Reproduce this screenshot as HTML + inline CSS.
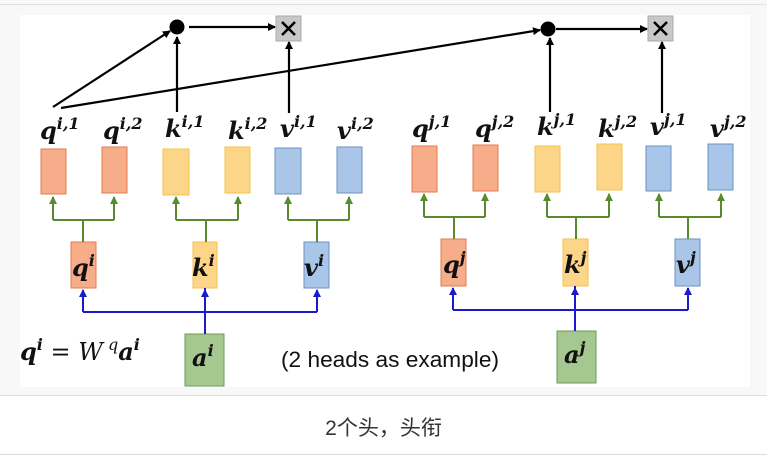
<!DOCTYPE html>
<html><head><meta charset="utf-8"><style>
html,body{margin:0;padding:0;background:#f8f8f8;}
body{width:767px;height:456px;position:relative;overflow:hidden;font-family:"Liberation Sans","Noto Sans CJK SC",sans-serif;}
.m{font-family:"DejaVu Serif","Liberation Serif",serif;font-weight:bold;font-style:italic;fill:#111;}
</style></head><body>
<div style="position:absolute;left:0;top:4px;width:767px;height:1px;background:#e2e2e2"></div>
<div style="position:absolute;left:0;top:395px;width:767px;height:61px;background:#fff"></div>
<div style="position:absolute;left:0;top:395px;width:767px;height:1px;background:#dcdcdc"></div>
<div style="position:absolute;left:0;top:454px;width:767px;height:1px;background:#dcdcdc"></div>
<div style="position:absolute;left:0;top:412px;width:767px;text-align:center;font-size:21px;color:#333">2个头，头衔</div>
<svg width="767" height="395" style="position:absolute;left:0;top:0">
<defs>
<marker id="ak" markerWidth="8" markerHeight="8" refX="7" refY="4" orient="auto" markerUnits="userSpaceOnUse"><path d="M0,0L8,4L0,8z" fill="#000"/></marker>
<marker id="ag" markerWidth="8" markerHeight="8" refX="7" refY="4" orient="auto" markerUnits="userSpaceOnUse"><path d="M0,0L8,4L0,8z" fill="#5a8a2e"/></marker>
<marker id="ab" markerWidth="8" markerHeight="8" refX="7" refY="4" orient="auto" markerUnits="userSpaceOnUse"><path d="M0,0L8,4L0,8z" fill="#1a1acc"/></marker>
</defs>
<rect x="20" y="15" width="730" height="372" fill="#fff"/>
<g stroke="#000" stroke-width="2.2" fill="none">
<line x1="53" y1="107" x2="170" y2="31" marker-end="url(#ak)"/>
<line x1="61" y1="108" x2="540" y2="30" marker-end="url(#ak)"/>
<line x1="177" y1="112" x2="177" y2="37" marker-end="url(#ak)"/>
<line x1="289" y1="113" x2="289" y2="42" marker-end="url(#ak)"/>
<line x1="189" y1="27" x2="275" y2="27" marker-end="url(#ak)"/>
<line x1="550" y1="112" x2="550" y2="38" marker-end="url(#ak)"/>
<line x1="662" y1="113" x2="662" y2="42" marker-end="url(#ak)"/>
<line x1="556" y1="29" x2="647" y2="29" marker-end="url(#ak)"/>
</g>
<circle cx="177" cy="27" r="7.5" fill="#000"/>
<circle cx="548" cy="29" r="7.5" fill="#000"/>
<rect x="276" y="16" width="25" height="25" fill="#c8c8c8" stroke="#aaa"/>
<rect x="648" y="16" width="25" height="25" fill="#c8c8c8" stroke="#aaa"/>
<path d="M282,22L295,35M295,22L282,35M654,22L667,35M667,22L654,35" stroke="#000" stroke-width="2.5"/>
<g class="m" font-size="24">
<text x="40" y="139">q<tspan font-size="16" dy="-10">i,1</tspan></text>
<text x="103" y="139">q<tspan font-size="16" dy="-10">i,2</tspan></text>
<text x="165" y="137">k<tspan font-size="16" dy="-10">i,1</tspan></text>
<text x="228" y="139">k<tspan font-size="16" dy="-10">i,2</tspan></text>
<text x="280" y="137">v<tspan font-size="16" dy="-10">i,1</tspan></text>
<text x="337" y="139">v<tspan font-size="16" dy="-10">i,2</tspan></text>
<text x="412" y="137">q<tspan font-size="16" dy="-10">j,1</tspan></text>
<text x="475" y="137">q<tspan font-size="16" dy="-10">j,2</tspan></text>
<text x="537" y="135">k<tspan font-size="16" dy="-10">j,1</tspan></text>
<text x="598" y="137">k<tspan font-size="16" dy="-10">j,2</tspan></text>
<text x="650" y="135">v<tspan font-size="16" dy="-10">j,1</tspan></text>
<text x="710" y="137">v<tspan font-size="16" dy="-10">j,2</tspan></text>
</g>
<g stroke-width="1">
<rect x="41" y="149" width="25" height="45" fill="#f7ad8a" stroke="#e07b4f"/>
<rect x="102" y="147" width="25" height="46" fill="#f7ad8a" stroke="#e07b4f"/>
<rect x="163" y="149" width="26" height="46" fill="#fdd588" stroke="#f5c24a"/>
<rect x="225" y="147" width="25" height="46" fill="#fdd588" stroke="#f5c24a"/>
<rect x="275" y="148" width="26" height="46" fill="#a9c5e8" stroke="#6b91c4"/>
<rect x="337" y="147" width="25" height="46" fill="#a9c5e8" stroke="#6b91c4"/>
<rect x="412" y="146" width="25" height="46" fill="#f7ad8a" stroke="#e07b4f"/>
<rect x="473" y="145" width="25" height="46" fill="#f7ad8a" stroke="#e07b4f"/>
<rect x="535" y="146" width="25" height="46" fill="#fdd588" stroke="#f5c24a"/>
<rect x="597" y="144" width="25" height="46" fill="#fdd588" stroke="#f5c24a"/>
<rect x="646" y="146" width="25" height="45" fill="#a9c5e8" stroke="#6b91c4"/>
<rect x="708" y="144" width="25" height="46" fill="#a9c5e8" stroke="#6b91c4"/>
<rect x="71" y="242" width="25" height="46" fill="#f7ad8a" stroke="#e07b4f"/>
<rect x="193" y="242" width="24" height="46" fill="#fdd588" stroke="#f5c24a"/>
<rect x="304" y="242" width="25" height="46" fill="#a9c5e8" stroke="#6b91c4"/>
<rect x="441" y="239" width="25" height="47" fill="#f7ad8a" stroke="#e07b4f"/>
<rect x="563" y="239" width="25" height="47" fill="#fdd588" stroke="#f5c24a"/>
<rect x="675" y="239" width="25" height="47" fill="#a9c5e8" stroke="#6b91c4"/>
<rect x="185" y="334" width="39" height="52" fill="#a5c890" stroke="#6f9a55"/>
<rect x="557" y="331" width="39" height="52" fill="#a5c890" stroke="#6f9a55"/>
</g>
<g stroke="#5a8a2e" stroke-width="2" fill="none">
<path d="M53,220H114M83,220V242M176,220H238M206,220V242M288,220H349M317,220V242"/>
<path d="M424,217H485M454,217V239M547,217H609M576,217V239M659,217H721M688,217V239"/>
<line x1="53" y1="220" x2="53" y2="197" marker-end="url(#ag)"/>
<line x1="114" y1="220" x2="114" y2="197" marker-end="url(#ag)"/>
<line x1="176" y1="220" x2="176" y2="197" marker-end="url(#ag)"/>
<line x1="238" y1="220" x2="238" y2="197" marker-end="url(#ag)"/>
<line x1="288" y1="220" x2="288" y2="197" marker-end="url(#ag)"/>
<line x1="349" y1="220" x2="349" y2="197" marker-end="url(#ag)"/>
<line x1="424" y1="217" x2="424" y2="194" marker-end="url(#ag)"/>
<line x1="485" y1="217" x2="485" y2="194" marker-end="url(#ag)"/>
<line x1="547" y1="217" x2="547" y2="194" marker-end="url(#ag)"/>
<line x1="609" y1="217" x2="609" y2="194" marker-end="url(#ag)"/>
<line x1="659" y1="217" x2="659" y2="194" marker-end="url(#ag)"/>
<line x1="721" y1="217" x2="721" y2="194" marker-end="url(#ag)"/>
</g>
<g stroke="#1a1acc" stroke-width="2" fill="none">
<path d="M83,312H317M205,334V288"/>
<path d="M453,310H688M575,331V286"/>
<line x1="83" y1="312" x2="83" y2="290" marker-end="url(#ab)"/>
<line x1="205" y1="312" x2="205" y2="290" marker-end="url(#ab)"/>
<line x1="317" y1="312" x2="317" y2="290" marker-end="url(#ab)"/>
<line x1="453" y1="310" x2="453" y2="288" marker-end="url(#ab)"/>
<line x1="575" y1="310" x2="575" y2="288" marker-end="url(#ab)"/>
<line x1="688" y1="310" x2="688" y2="288" marker-end="url(#ab)"/>
</g>
<g class="m" font-size="24">
<text x="72" y="276">q<tspan font-size="16" dy="-10">i</tspan></text>
<text x="192" y="276">k<tspan font-size="16" dy="-10">i</tspan></text>
<text x="304" y="276">v<tspan font-size="16" dy="-10">i</tspan></text>
<text x="443" y="273">q<tspan font-size="16" dy="-10">j</tspan></text>
<text x="564" y="273">k<tspan font-size="16" dy="-10">j</tspan></text>
<text x="676" y="273">v<tspan font-size="16" dy="-10">j</tspan></text>
<text x="192" y="366">a<tspan font-size="16" dy="-10">i</tspan></text>
<text x="564" y="363">a<tspan font-size="16" dy="-10">j</tspan></text>
<text x="20" y="360" font-size="24">q<tspan font-size="16" dy="-10">i</tspan><tspan dy="10" font-weight="normal" font-style="normal"> = </tspan><tspan font-weight="normal">W</tspan><tspan font-size="16" dy="-10" font-weight="normal"> q</tspan><tspan dy="10">a</tspan><tspan font-size="16" dy="-10">i</tspan></text>
</g>
<text x="281" y="367" font-family="Liberation Sans Narrow, Liberation Sans, sans-serif" font-size="22" fill="#111" textLength="218" lengthAdjust="spacingAndGlyphs">(2 heads as example)</text>
</svg>
</body></html>
